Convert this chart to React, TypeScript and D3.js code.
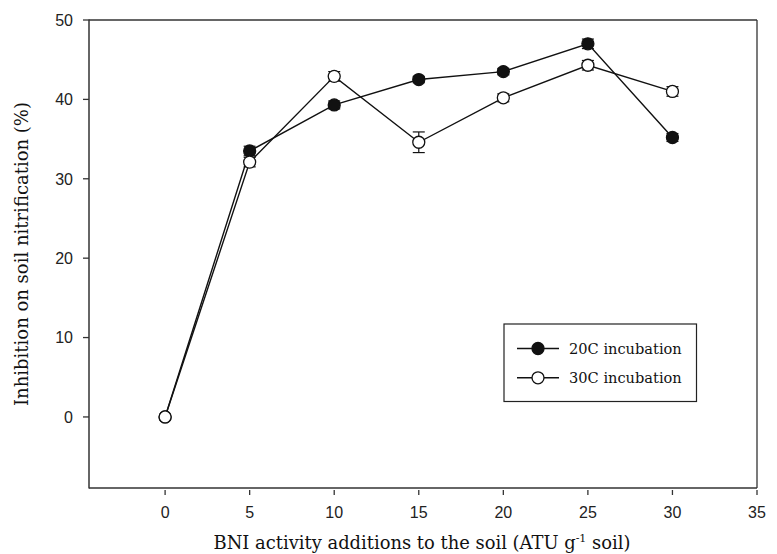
import React from "react";
import * as d3 from "d3";

const xValues = [0, 5, 10, 15, 20, 25, 30];
const series20 = [0, 33.5, 39.3, 42.5, 43.5, 47.0, 35.2];
const err20 = [0, 0.6, 0.5, 0.4, 0.4, 0.6, 0.5];
const series30 = [0, 32.1, 42.9, 34.6, 40.2, 44.3, 41.0];
const err30 = [0, 0.6, 0.6, 1.3, 0.5, 0.6, 0.6];
const xTicks = [0, 5, 10, 15, 20, 25, 30, 35];
const yTicks = [0, 10, 20, 30, 40, 50];
const seriesNames = ["20C incubation", "30C incubation"];

const W = 777;
const H = 554;
const L = 89, R = 757, T = 20, B = 488;
const SERIF = "'DejaVu Serif', serif";
const SANS = "'Liberation Sans', Arial, sans-serif";

export default function App() {
  const x = d3.scaleLinear().domain([-4.5, 35]).range([L, R]);
  const y = d3.scaleLinear().domain([-8.95, 50]).range([B, T]);
  const line = d3
    .line<[number, number]>()
    .x((d) => x(d[0]))
    .y((d) => y(d[1]));

  const data = [
    { vals: series20, errs: err20, fill: "#111" },
    { vals: series30, errs: err30, fill: "#fff" },
  ];
  const axisColor = "#333";
  const r = 6;

  return (
    <svg
      width={W}
      height={H}
      style={{ position: "absolute", left: 0, top: 0, background: "#fff" }}
    >
      <line x1={L} x2={R} y1={T} y2={T} stroke={axisColor} strokeWidth={1.3} />
      <line x1={R} x2={R} y1={T} y2={B} stroke={axisColor} strokeWidth={1.3} />
      <line x1={L} x2={L} y1={T - 0.6} y2={B + 0.6} stroke={axisColor} strokeWidth={1.5} />
      <line x1={L} x2={R} y1={B} y2={B} stroke={axisColor} strokeWidth={1.5} />

      {yTicks.map((t) => (
        <g key={"y" + t}>
          <line x1={L - 6} x2={L} y1={y(t)} y2={y(t)} stroke={axisColor} strokeWidth={1.3} />
          <text x={L - 16} y={y(t)} dy="0.36em" textAnchor="end" style={{ fontFamily: SANS, fontSize: 16 }} fill="#222">
            {t}
          </text>
        </g>
      ))}
      {xTicks.map((t) => (
        <g key={"x" + t}>
          <line x1={x(t)} x2={x(t)} y1={B + 2} y2={B + 7} stroke={axisColor} strokeWidth={1.3} />
          <text x={x(t)} y={518} textAnchor="middle" style={{ fontFamily: SANS, fontSize: 16 }} fill="#222">
            {t}
          </text>
        </g>
      ))}

      {data.map((s, i) => (
        <path
          key={"l" + i}
          d={line(xValues.map((xv, j) => [xv, s.vals[j]]) as [number, number][]) || ""}
          fill="none"
          stroke="#111"
          strokeWidth={1.4}
        />
      ))}
      {data.map((s, i) =>
        xValues.map((xv, j) =>
          s.errs[j] > 0 ? (
            <g key={"e" + i + "-" + j} stroke="#111" strokeWidth={1.2}>
              <line x1={x(xv)} x2={x(xv)} y1={y(s.vals[j] + s.errs[j])} y2={y(s.vals[j] - s.errs[j])} />
              <line x1={x(xv) - 6} x2={x(xv) + 6} y1={y(s.vals[j] + s.errs[j])} y2={y(s.vals[j] + s.errs[j])} />
              <line x1={x(xv) - 6} x2={x(xv) + 6} y1={y(s.vals[j] - s.errs[j])} y2={y(s.vals[j] - s.errs[j])} />
            </g>
          ) : null
        )
      )}
      {data.map((s, i) =>
        xValues.map((xv, j) => (
          <circle key={"m" + i + "-" + j} cx={x(xv)} cy={y(s.vals[j])} r={r} fill={s.fill} stroke="#111" strokeWidth={1.3} />
        ))
      )}

      <rect x={504} y={324} width={192.5} height={77.5} fill="#fff" stroke="#222" strokeWidth={1.2} />
      {data.map((s, i) => {
        const ly = 348.5 + i * 29.3;
        return (
          <g key={"lg" + i}>
            <line x1={517} x2={559} y1={ly} y2={ly} stroke="#111" strokeWidth={1.4} />
            <circle cx={538} cy={ly} r={r} fill={s.fill} stroke="#111" strokeWidth={1.3} />
            <text x={569} y={ly} dy="0.35em" style={{ fontFamily: SERIF, fontSize: 14.6 }} fill="#111">
              {seriesNames[i]}
            </text>
          </g>
        );
      })}

      <text x={422} y={549} textAnchor="middle" style={{ fontFamily: SERIF, fontSize: 17.9 }} fill="#111">
        BNI activity additions to the soil (ATU g
        <tspan dy={-7} style={{ fontSize: 11 }}>-1</tspan>
        <tspan dy={7}> soil)</tspan>
      </text>
      <text
        transform={`translate(28, 254) rotate(-90)`}
        textAnchor="middle"
        style={{ fontFamily: SERIF, fontSize: 18 }}
        fill="#111"
      >
        Inhibition on soil nitrification (%)
      </text>
    </svg>
  );
}
